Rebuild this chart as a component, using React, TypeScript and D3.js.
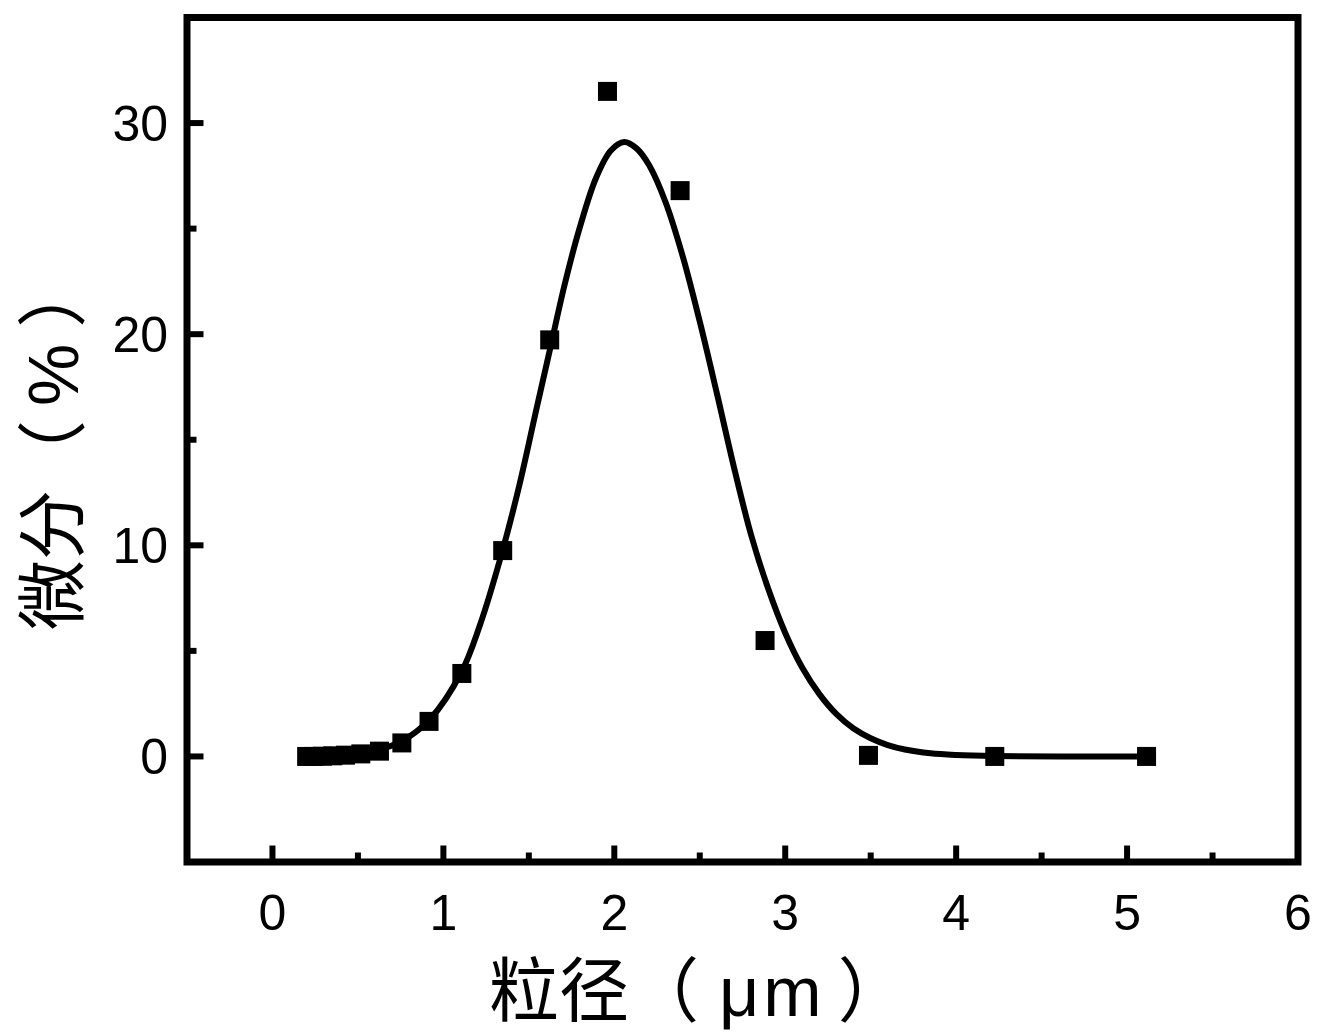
import React from "react";
import * as d3 from "d3";

// particle size (μm) of measured points
const sizes = [0.2, 0.241, 0.292, 0.353, 0.427, 0.517, 0.626, 0.757, 0.916, 1.108, 1.347, 1.622, 1.96, 2.385, 2.882, 3.487, 4.226, 5.114];
// differential (%) values
const diffs = [0, 0, 0.01, 0.03, 0.06, 0.12, 0.25, 0.64, 1.66, 3.93, 9.75, 19.73, 31.5, 26.8, 5.49, 0.05, 0, 0];

// fitted curve
const fitX = [0.2, 0.4, 0.6, 0.756, 0.921, 1.106, 1.213, 1.345, 1.446, 1.543, 1.627, 1.708, 1.796, 1.893, 1.98, 2.058, 2.13, 2.204, 2.3, 2.4, 2.5, 2.6, 2.7, 2.8, 2.9, 3.0, 3.1, 3.2, 3.3, 3.4, 3.5, 3.6, 3.7, 3.85, 4.0, 4.226, 4.6, 5.114];
const fitY = [0.0, 0.05, 0.27, 0.72, 1.76, 4.0, 6.2, 9.72, 12.9, 16.4, 19.4, 22.3, 25.0, 27.4, 28.7, 29.1, 28.8, 28.0, 26.25, 23.7, 20.6, 17.2, 13.7, 10.5, 7.95, 5.85, 4.2, 2.95, 2.0, 1.32, 0.86, 0.54, 0.33, 0.15, 0.07, 0.02, 0.0, 0.0];

const xMajor = [0, 1, 2, 3, 4, 5, 6];
const xMinor = [0.5, 1.5, 2.5, 3.5, 4.5, 5.5];
const yMajor = [0, 10, 20, 30];
const yMinor = [5, 15, 25];

const xTitleA = "粒径（";
const xTitleUnit = "μm";
const xTitleB = "）";
const yTitleA = "微分（";
const yTitleUnit = "%";
const yTitleB = "）";

export default function App() {
  const W = 1324, H = 1035;
  const x = d3.scaleLinear().domain([-0.5, 6]).range([187, 1298]);
  const y = d3.scaleLinear().domain([-5, 35]).range([862, 17.5]);

  const line = d3
    .line<number>()
    .x((_, i) => x(fitX[i]))
    .y((d) => y(d))
    .curve(d3.curveCatmullRom.alpha(0.5));

  const [x0, x1] = x.range();
  const [y0, y1] = y.range();
  const sw = 7;
  const majorLen = 13 + sw / 2;
  const minorLen = 6 + sw / 2;
  const ms = 19;
  const tickFont = "'Liberation Sans', Arial, sans-serif";
  const titleFont = "'Liberation Sans', 'Noto Sans CJK SC', sans-serif";

  return (
    <svg width={W} height={H} style={{ position: "absolute", left: 0, top: 0, background: "#fff" }}>
      <rect x={0} y={0} width={W} height={H} fill="#fff" />
      {/* fit curve */}
      <path d={line(fitY) || ""} fill="none" stroke="#000" strokeWidth={6} />
      {/* points */}
      {sizes.map((s, i) => (
        <rect key={i} x={x(s) - ms / 2} y={y(diffs[i]) - ms / 2} width={ms} height={ms} fill="#000" />
      ))}
      {/* ticks */}
      {xMajor.map((t) => (
        <line key={"xM" + t} x1={x(t)} x2={x(t)} y1={y0} y2={y0 - majorLen} stroke="#000" strokeWidth={6} />
      ))}
      {xMinor.map((t) => (
        <line key={"xm" + t} x1={x(t)} x2={x(t)} y1={y0} y2={y0 - minorLen} stroke="#000" strokeWidth={6} />
      ))}
      {yMajor.map((t) => (
        <line key={"yM" + t} x1={x0} x2={x0 + majorLen} y1={y(t)} y2={y(t)} stroke="#000" strokeWidth={6} />
      ))}
      {yMinor.map((t) => (
        <line key={"ym" + t} x1={x0} x2={x0 + minorLen} y1={y(t)} y2={y(t)} stroke="#000" strokeWidth={6} />
      ))}
      {/* frame */}
      <rect x={x0} y={y1} width={x1 - x0} height={y0 - y1} fill="none" stroke="#000" strokeWidth={sw} />
      {/* tick labels */}
      {xMajor.map((t) => (
        <text key={"xl" + t} x={x(t)} y={930} textAnchor="middle" fontFamily={tickFont} fontSize={50} fill="#000">
          {t}
        </text>
      ))}
      {yMajor.map((t) => (
        <text key={"yl" + t} x={168} y={y(t)} dy="0.36em" textAnchor="end" fontFamily={tickFont} fontSize={50} fill="#000">
          {t}
        </text>
      ))}
      {/* titles */}
      <text x={489} y={1016} fontFamily={titleFont} fontSize={70} fill="#000">
        {xTitleA}
        <tspan dx={20} letterSpacing={4}>{xTitleUnit}</tspan>
        <tspan dx={12}>{xTitleB}</tspan>
      </text>
      <text transform="translate(78,630) rotate(-90)" fontFamily={titleFont} fontSize={70} fill="#000">
        {yTitleA}
        <tspan dx={14}>{yTitleUnit}</tspan>
        <tspan dx={16}>{yTitleB}</tspan>
      </text>
    </svg>
  );
}
